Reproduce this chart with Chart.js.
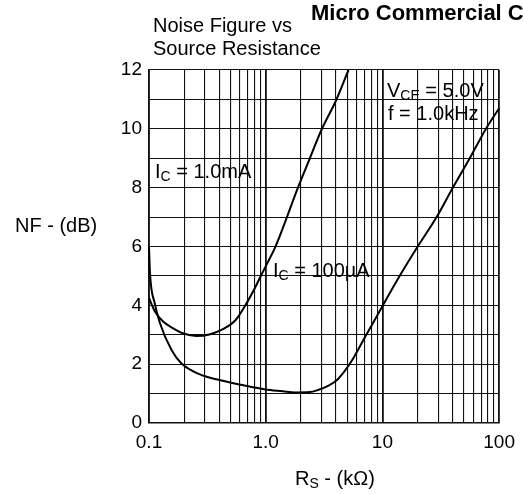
<!DOCTYPE html>
<html>
<head>
<meta charset="utf-8">
<script src="https://cdn.jsdelivr.net/npm/chart.js@4"></script>
<style>
  body { margin: 0; background: #fff; }
  canvas { display: block; }
</style>
</head>
<body>
<canvas id="nfChart" width="523" height="494"></canvas>
<script>
// source resistance (kOhm) and noise figure (dB)
const rs1mA = [0.1, 0.112, 0.132, 0.161, 0.195, 0.254, 0.329, 0.426, 0.553, 0.672, 0.791, 0.901, 1.03, 1.21, 1.9, 2.39, 3.0, 4.02, 5.12];
const nf1mA = [4.25, 3.8, 3.45, 3.22, 3.05, 2.96, 3.01, 3.18, 3.5, 4.01, 4.52, 4.97, 5.43, 5.99, 8.03, 9.0, 9.96, 10.98, 12.0];

const rs100uA = [0.1, 0.102, 0.112, 0.124, 0.156, 0.189, 0.27, 0.4, 0.63, 0.99, 1.4, 1.785, 2.39, 2.8, 3.42, 4.15, 5.39, 7.0, 9.07, 13.4, 19.2, 29.2, 40.5, 56.0, 77.6, 100];
const nf100uA = [6.0, 5.09, 4.07, 3.4, 2.48, 2.03, 1.66, 1.46, 1.29, 1.14, 1.08, 1.04, 1.05, 1.12, 1.26, 1.49, 2.08, 2.88, 3.67, 4.86, 5.88, 7.01, 8.03, 9.0, 10.02, 10.7];

const xTickValues = [0.1, 1, 10, 100];
const xTickLabels = ['0.1', '1.0', '10', '100'];
const yTickValues = [0, 2, 4, 6, 8, 10, 12];
const yTickLabels = ['0', '2', '4', '6', '8', '10', '12'];

// log grid: 1..9 in every decade
const xGrid = [];
xTickValues.slice(0, -1).forEach(d => {
    for (let k = 1; k < 10; k++) xGrid.push(+(d * k).toPrecision(3));
});
xGrid.push(xTickValues[xTickValues.length - 1]);

const toPoints = (xs, ys) => xs.map((x, i) => ({ x: x, y: ys[i] }));

const FONT = 'Liberation Sans, Arial, sans-serif';

// text with subscripts: parts = [[text, isSub], ...]
function drawSub(ctx, x, y, parts, size) {
    let cx = x;
    parts.forEach(([t, sub]) => {
        ctx.font = (sub ? Math.round(size * 0.72) : size) + 'px ' + FONT;
        ctx.fillText(t, cx, sub ? y + 3 : y);
        cx += ctx.measureText(t).width;
    });
}

const textPlugin = {
    id: 'texts',
    afterDraw(chart) {
        const ctx = chart.ctx;
        ctx.save();
        ctx.fillStyle = '#000';
        ctx.textBaseline = 'alphabetic';
        ctx.textAlign = 'left';

        ctx.font = 'bold 22px ' + FONT;
        ctx.fillText('Micro Commercial Components', 311, 20);

        ctx.font = '20px ' + FONT;
        ctx.fillText('Noise Figure vs', 153, 32);
        ctx.fillText('Source Resistance', 153, 55);
        ctx.fillText('NF - (dB)', 15, 232);

        drawSub(ctx, 295, 485, [['R', false], ['S', true], [' - (kΩ)', false]], 20);

        drawSub(ctx, 155, 178, [['I', false], ['C', true], [' = 1.0mA', false]], 20);
        drawSub(ctx, 273, 277, [['I', false], ['C', true], [' = 100µA', false]], 20);
        drawSub(ctx, 387, 97, [['V', false], ['CE', true], [' = 5.0V', false]], 20);
        drawSub(ctx, 388, 120, [['f = 1.0kHz', false]], 20);
        ctx.restore();
    }
};

const ctxNf = document.getElementById('nfChart').getContext('2d');
const nfChart = new Chart(ctxNf, {
    type: 'line',
    data: {
        datasets: [{
            label: 'IC = 1.0mA',
            data: toPoints(rs1mA, nf1mA),
            borderColor: '#000',
            borderWidth: 2,
            pointRadius: 0,
            cubicInterpolationMode: 'monotone',
            clip: 2
        }, {
            label: 'IC = 100uA',
            data: toPoints(rs100uA, nf100uA),
            borderColor: '#000',
            borderWidth: 2,
            pointRadius: 0,
            cubicInterpolationMode: 'monotone',
            clip: 2
        }]
    },
    options: {
        responsive: false,
        animation: false,
        layout: { padding: { left: 0, top: 70, right: 20, bottom: 0 } },
        plugins: {
            legend: { display: false },
            tooltip: { enabled: false }
        },
        scales: {
            x: {
                type: 'logarithmic',
                min: 0.1,
                max: 100,
                afterBuildTicks: s => { s.ticks = xGrid.map(v => ({ value: v })); },
                afterFit: s => { s.height = 71; },
                grid: {
                    color: '#111',
                    lineWidth: c => (c.tick && xTickValues.includes(c.tick.value) ? 1.8 : 1.1),
                    drawTicks: false
                },
                border: { color: '#111', width: 1.5 },
                ticks: {
                    autoSkip: false,
                    maxRotation: 0,
                    padding: 8,
                    color: '#000',
                    font: { family: FONT, size: 19 },
                    callback: v => {
                        const i = xTickValues.indexOf(v);
                        return i >= 0 ? xTickLabels[i] : '';
                    }
                }
            },
            y: {
                min: 0,
                max: 12,
                afterFit: s => { s.width = 149; },
                grid: { color: '#111', lineWidth: 1.1, drawTicks: false },
                border: { color: '#111', width: 1.5 },
                ticks: {
                    stepSize: 1,
                    autoSkip: false,
                    padding: 7,
                    color: '#000',
                    font: { family: FONT, size: 19 },
                    callback: v => {
                        const i = yTickValues.indexOf(v);
                        return i >= 0 ? yTickLabels[i] : '';
                    }
                }
            }
        }
    },
    plugins: [textPlugin]
});
</script>
</body>
</html>
